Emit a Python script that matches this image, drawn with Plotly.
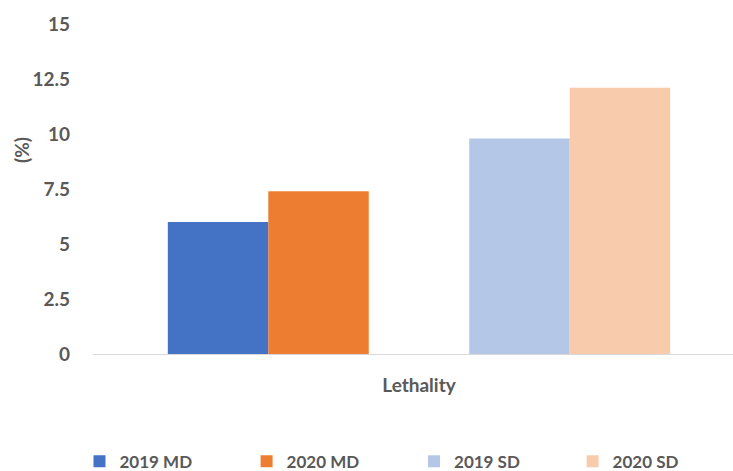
import plotly.graph_objects as go

# Lethality by year and group
category = ["Lethality"]
series_names = ["2019 MD", "2020 MD", "2019 SD", "2020 SD"]
lethality_2019_md = [6.0]
lethality_2020_md = [7.4]
lethality_2019_sd = [9.8]
lethality_2020_sd = [12.1]
y_ticks = [0, 2.5, 5, 7.5, 10, 12.5, 15]

values = [lethality_2019_md, lethality_2020_md, lethality_2019_sd, lethality_2020_sd]
colors = ["#4472C4", "#ED7D31", "#B4C7E7", "#F8CBAD"]
# slot positions within the category (slot 2 is left empty between MD and SD pairs)
slots = [0, 1, 3, 4]
bar_w = 0.1541

# one legend box per series so the entries can be spread evenly along the bottom
legend_ids = ["legend", "legend2", "legend3", "legend4"]
legend_x = [-0.0211, 0.2400, 0.5016, 0.7494]

TEXT = "#595959"
FONT = "Lato"

fig = go.Figure()
for name, vals, col, slot, lg in zip(series_names, values, colors, slots, legend_ids):
    fig.add_trace(go.Bar(
        x=category, y=vals, name=name,
        marker=dict(color=col, line=dict(width=0)),
        width=bar_w, offset=(slot - 2.5) * bar_w,
        legend=lg,
    ))

legend_style = dict(
    orientation="h", xanchor="left", y=-0.326, yanchor="middle",
    font=dict(family=FONT, size=17, color=TEXT, weight="bold"),
    bgcolor="rgba(0,0,0,0)",
)

fig.update_layout(
    width=733, height=471,
    margin=dict(l=93, r=0, t=24, b=117, autoexpand=False),
    paper_bgcolor="white", plot_bgcolor="white",
    showlegend=True,
    xaxis=dict(
        type="category", range=[-0.5, 0.4816],
        showline=True, linecolor="#D9D9D9", linewidth=1,
        showgrid=False, zeroline=False, ticks="",
        tickfont=dict(family=FONT, size=19, color=TEXT, weight="bold"),
        ticklabelstandoff=14,
    ),
    yaxis=dict(
        range=[0, 15], tickvals=y_ticks,
        ticktext=[f"{v:g}" for v in y_ticks],
        showgrid=False, zeroline=False, showline=False, ticks="",
        tickfont=dict(family=FONT, size=19, color=TEXT, weight="bold"),
        ticklabelstandoff=22,
    ),
    annotations=[dict(
        text="(%)", textangle=-90, showarrow=False,
        xref="paper", yref="paper", x=(21 - 93) / 640, y=(354 - 150) / 330,
        xanchor="center", yanchor="middle",
        font=dict(family=FONT, size=19, color=TEXT, weight="bold"),
    )],
)
for lg, lx in zip(legend_ids, legend_x):
    fig.update_layout({lg: dict(legend_style, x=lx)})

fig.write_html("out.html")
